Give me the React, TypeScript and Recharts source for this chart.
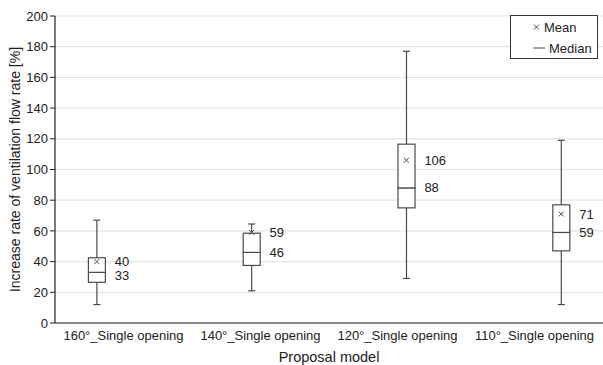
import {
  ComposedChart,
  Bar,
  Line,
  XAxis,
  YAxis,
  CartesianGrid,
  Legend,
} from "recharts";

const categories = [
  "160°_Single opening",
  "140°_Single opening",
  "120°_Single opening",
  "110°_Single opening",
];
const minVals = [12, 21, 29, 12];
const q1Vals = [26.5, 37.5, 75, 47];
const medianVals = [33, 46, 88, 59];
const q3Vals = [42.5, 58.5, 116.5, 77];
const maxVals = [67, 64.5, 177, 119];
const meanVals = [40, 59, 106, 71];
const yTicks = [0, 20, 40, 60, 80, 100, 120, 140, 160, 180, 200];

const LINE = "#4a4a4a";
const TEXT = "#222";

const data = categories.map((name, i) => ({
  name,
  pos: i,
  base: minVals[i],
  lowWhisker: q1Vals[i] - minVals[i],
  boxLow: medianVals[i] - q1Vals[i],
  boxHigh: q3Vals[i] - medianVals[i],
  highWhisker: maxVals[i] - q3Vals[i],
  mean: meanVals[i],
  median: medianVals[i],
}));

function LowWhisker({ x, y, width, height }: any) {
  const cx = x + width / 2;
  return (
    <g stroke={LINE} strokeWidth={1.2}>
      <line x1={cx} y1={y} x2={cx} y2={y + height} />
      <line x1={cx - 3.5} y1={y + height} x2={cx + 3.5} y2={y + height} />
    </g>
  );
}

function HighWhisker({ x, y, width, height }: any) {
  const cx = x + width / 2;
  return (
    <g stroke={LINE} strokeWidth={1.2}>
      <line x1={cx} y1={y} x2={cx} y2={y + height} />
      <line x1={cx - 3.5} y1={y} x2={cx + 3.5} y2={y} />
    </g>
  );
}

function BoxPart({ x, y, width, height }: any) {
  return (
    <rect
      x={x}
      y={y}
      width={width}
      height={height}
      fill="#fff"
      stroke={LINE}
      strokeWidth={1.2}
    />
  );
}

function MeanDot({ cx, cy, value }: any) {
  if (cx == null || cy == null) return null;
  return (
    <g>
      <g stroke={LINE} strokeWidth={1}>
        <line x1={cx - 2.5} y1={cy - 2.5} x2={cx + 2.5} y2={cy + 2.5} />
        <line x1={cx - 2.5} y1={cy + 2.5} x2={cx + 2.5} y2={cy - 2.5} />
      </g>
      <text x={cx + 18} y={cy} dominantBaseline="central" fontSize={13} fill={TEXT}>
        {Math.round(value)}
      </text>
    </g>
  );
}

function MedianDot({ cx, cy, value, payload }: any) {
  if (cx == null || cy == null) return null;
  // nudge the median label down when it sits too close to the mean label
  const nudge = payload && payload.mean - payload.median < 10 ? 3 : 0;
  return (
    <text x={cx + 18} y={cy + nudge} dominantBaseline="central" fontSize={13} fill={TEXT}>
      {Math.round(value)}
    </text>
  );
}

function LegendBox() {
  return (
    <div
      style={{
        border: "1px solid #333",
        background: "#fff",
        width: 88,
        height: 44,
        boxSizing: "border-box",
        fontSize: 13,
        color: TEXT,
        position: "relative",
      }}
    >
      <svg width={86} height={42} style={{ position: "absolute", left: 0, top: 0 }}>
        <g stroke={LINE} strokeWidth={1}>
          <line x1={23} y1={8.5} x2={28} y2={13.5} />
          <line x1={23} y1={13.5} x2={28} y2={8.5} />
          <line x1={22} y1={32} x2={34} y2={32} />
        </g>
        <text x={33} y={11} dominantBaseline="central" fontSize={13} fill={TEXT}>
          Mean
        </text>
        <text x={38} y={32} dominantBaseline="central" fontSize={13} fill={TEXT}>
          Median
        </text>
      </svg>
    </div>
  );
}

export default function App() {
  return (
    <div
      style={{
        position: "absolute",
        left: 0,
        top: 0,
        fontFamily: "'Liberation Sans', Arial, sans-serif",
        background: "#fff",
      }}
    >
      <ComposedChart
        width={603}
        height={365}
        data={data}
        margin={{ top: 16, right: 0, left: 0, bottom: 0 }}
      >
        <CartesianGrid
          xAxisId="cat"
          vertical={false}
          stroke="#e4e4e4"
          strokeWidth={1.2}
        />
        <XAxis
          xAxisId="cat"
          dataKey="name"
          type="category"
          height={42}
          tickLine={false}
          axisLine={{ stroke: "#222", strokeWidth: 1.2 }}
          tick={{ fill: TEXT, fontSize: 13 }}
          interval={0}
          label={{
            value: "Proposal model",
            position: "insideBottom",
            offset: 3,
            fill: TEXT,
            fontSize: 14.5,
          }}
        />
        <XAxis
          xAxisId="pos"
          dataKey="pos"
          type="number"
          domain={[-0.27, 3.27]}
          hide
        />
        <YAxis
          domain={[0, 200]}
          ticks={yTicks}
          width={55}
          tickSize={5}
          interval={0}
          tickLine={{ stroke: "#222" }}
          axisLine={{ stroke: "#222", strokeWidth: 1.2 }}
          tick={{ fill: TEXT, fontSize: 13 }}
          label={{
            value: "Increase rate of ventilation flow rate [%]",
            angle: -90,
            position: "center",
            dx: -12,
            fill: TEXT,
            fontSize: 14,
          }}
        />
        <Legend
          layout="vertical"
          align="center"
          verticalAlign="middle"
          wrapperStyle={{ left: 510, top: 15, width: 88, height: 44 }}
          content={() => <LegendBox />}
        />
        <Bar xAxisId="pos" dataKey="base" stackId="box" fill="transparent" barSize={17} isAnimationActive={false} legendType="none" />
        <Bar xAxisId="pos" dataKey="lowWhisker" stackId="box" barSize={17} shape={<LowWhisker />} isAnimationActive={false} legendType="none" />
        <Bar xAxisId="pos" dataKey="boxLow" stackId="box" barSize={17} shape={<BoxPart />} isAnimationActive={false} legendType="none" />
        <Bar xAxisId="pos" dataKey="boxHigh" stackId="box" barSize={17} shape={<BoxPart />} isAnimationActive={false} legendType="none" />
        <Bar xAxisId="pos" dataKey="highWhisker" stackId="box" barSize={17} shape={<HighWhisker />} isAnimationActive={false} legendType="none" />
        <Line
          xAxisId="pos"
          dataKey="mean"
          stroke="none"
          dot={<MeanDot />}
          activeDot={false}
          isAnimationActive={false}
          legendType="none"
        />
        <Line
          xAxisId="pos"
          dataKey="median"
          stroke="none"
          dot={<MedianDot />}
          activeDot={false}
          isAnimationActive={false}
          legendType="none"
        />
      </ComposedChart>
    </div>
  );
}
